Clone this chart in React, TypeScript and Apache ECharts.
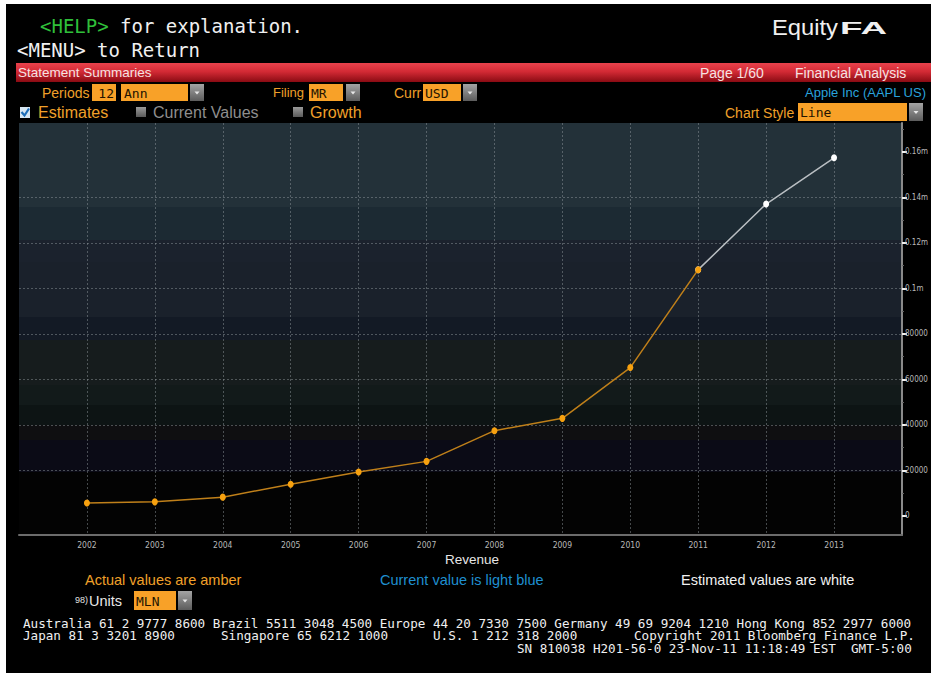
import React, { useEffect, useRef } from 'react';
import * as echarts from 'echarts';

// ---- data ----
const years = [2002, 2003, 2004, 2005, 2006, 2007, 2008, 2009, 2010, 2011, 2012, 2013];
const actualYears = [2002, 2003, 2004, 2005, 2006, 2007, 2008, 2009, 2010, 2011];
const actualRevenue = [5742, 6207, 8279, 13931, 19315, 24006, 37491, 42905, 65225, 108249];
const estimateYears = [2011, 2012, 2013];
const estimateRevenue = [108249, 137100, 157400];
const yTickValues = [0, 20000, 40000, 60000, 80000, 100000, 120000, 140000, 160000];
const footerLine1 = 'Australia 61 2 9777 8600 Brazil 5511 3048 4500 Europe 44 20 7330 7500 Germany 49 69 9204 1210 Hong Kong 852 2977 6000';

const SANS = '"Liberation Sans", Arial, sans-serif';
const MONO = '"DejaVu Sans Mono", monospace';
const NARROW = '"Liberation Sans Narrow", "DejaVu Sans Condensed", "Liberation Sans", sans-serif';
const AMBER = '#f0a02a';
const BOX = '#f8a128';
const FOOT_SIZE = 11.8;
const FOOT_SCALE = 1.07;

function txt(x: number, y: number, text: string, fill: string, size: number, opt: any = {}) {
  return {
    type: 'text',
    x,
    y,
    scaleX: opt.scaleX ?? 1,
    z: 10,
    style: {
      text,
      fill,
      fontSize: size,
      fontFamily: opt.family ?? SANS,
      fontWeight: opt.weight ?? 'normal',
      align: opt.align ?? 'left',
      verticalAlign: 'middle',
    },
  };
}

function box(x: number, y: number, w: number, h: number) {
  return { type: 'rect', z: 5, shape: { x, y, width: w, height: h }, style: { fill: BOX } };
}

function dd(x: number, y: number, w: number, h: number) {
  const cx = x + w / 2;
  const cy = y + h / 2;
  return [
    {
      type: 'rect',
      z: 5,
      shape: { x, y, width: w, height: h },
      style: {
        fill: new echarts.graphic.LinearGradient(0, 0, 0, 1, [
          { offset: 0, color: '#a4a4a4' },
          { offset: 1, color: '#5c5c5c' },
        ]),
      },
    },
    {
      type: 'polygon',
      z: 6,
      shape: { points: [[cx - 2.5, cy - 1], [cx + 2.5, cy - 1], [cx, cy + 2]] },
      style: { fill: '#e8e8e8' },
    },
  ];
}

function grayCheck(x: number, y: number) {
  return {
    type: 'rect',
    z: 5,
    shape: { x, y, width: 10, height: 10 },
    style: {
      fill: new echarts.graphic.LinearGradient(0, 0, 0, 1, [
        { offset: 0, color: '#9a9a9a' },
        { offset: 1, color: '#5a5a5a' },
      ]),
    },
  };
}

function foot(x: number, y: number, text: string) {
  return txt(x, y, text, '#f0f0f0', FOOT_SIZE, { family: MONO, scaleX: FOOT_SCALE });
}

// stepped background bands of the plot (pixel bands, converted to gradient stops)
const PLOT_TOP = 123;
const PLOT_H = 412;
const bands: [number, number, string][] = [
  [123, 207, '#233139'],
  [207, 240, '#1c2a33'],
  [240, 262, '#1b222d'],
  [262, 317, '#1a212b'],
  [317, 340, '#131a25'],
  [340, 385, '#161c1d'],
  [385, 405, '#121a1a'],
  [405, 425, '#0d1414'],
  [425, 440, '#0f0f11'],
  [440, 472, '#0b0b16'],
  [472, 535, '#030303'],
];

export default function App() {
  const ref = useRef<HTMLDivElement>(null);
  useEffect(() => {
    document.body.style.margin = '0';
    const chart = echarts.init(ref.current!, null, { renderer: 'svg' });

    const stops: any[] = [];
    bands.forEach(([a, b, c]) => {
      stops.push({ offset: (a - PLOT_TOP) / PLOT_H, color: c });
      stops.push({ offset: Math.min(1, (b - PLOT_TOP) / PLOT_H), color: c });
    });

    const graphic: any[] = [
      { type: 'rect', z: 20, shape: { x: 0, y: 0, width: 931, height: 4 }, style: { fill: '#fff' } },
      { type: 'rect', z: 20, shape: { x: 0, y: 0, width: 6, height: 673 }, style: { fill: '#fff' } },
      txt(40, 26, '<HELP>', '#2fbf3a', 19, { family: MONO }),
      txt(120, 26, 'for explanation.', '#f0f0f0', 19, { family: MONO }),
      txt(17, 50, '<MENU> to Return', '#f0f0f0', 19, { family: MONO }),
      txt(772, 27, 'Equity', '#f0f0f0', 22, { scaleX: 1.08 }),
      txt(840, 28, 'FA', '#f0f0f0', 16, { weight: 'bold', scaleX: 2.3 }),
      {
        type: 'rect',
        z: 4,
        shape: { x: 16, y: 63, width: 915, height: 19 },
        style: {
          fill: new echarts.graphic.LinearGradient(0, 0, 0, 1, [
            { offset: 0, color: '#e8424c' },
            { offset: 0.45, color: '#d32a35' },
            { offset: 1, color: '#8a0b13' },
          ]),
        },
      },
      txt(18, 72.5, 'Statement Summaries', '#f6e2e2', 13.5),
      txt(700, 72.5, 'Page 1/60', '#f6e2e2', 14),
      txt(795, 72.5, 'Financial Analysis', '#f6e2e2', 14),
      // row 1
      txt(42, 92.5, 'Periods', AMBER, 14),
      box(92, 84, 24, 17),
      txt(114, 93, '12', '#241400', 13, { family: MONO, align: 'right' }),
      box(121, 84, 67, 17),
      txt(124, 93, 'Ann', '#241400', 13, { family: MONO }),
      ...dd(190, 84, 14, 17),
      txt(273, 92.5, 'Filing', AMBER, 13),
      box(309, 84, 34, 17),
      txt(311, 93, 'MR', '#241400', 13, { family: MONO }),
      ...dd(346, 84, 14, 17),
      txt(394, 92.5, 'Curr', AMBER, 14),
      box(423, 84, 38, 17),
      txt(425, 93, 'USD', '#241400', 13, { family: MONO }),
      ...dd(463, 84, 14, 17),
      txt(926, 92.5, 'Apple Inc (AAPL US)', '#29a3dc', 13, { align: 'right' }),
      // row 2
      {
        type: 'rect',
        z: 5,
        shape: { x: 20, y: 107, width: 10, height: 11 },
        style: { fill: '#d6e6f2' },
      },
      {
        type: 'polyline',
        z: 6,
        shape: { points: [[21.5, 112], [24.5, 115.5], [29, 108.5]] },
        style: { stroke: '#1d6db8', lineWidth: 2.2, fill: null },
      },
      txt(38, 112, 'Estimates', AMBER, 16),
      grayCheck(136, 107),
      txt(153, 112, 'Current Values', '#8e8e8e', 16),
      grayCheck(293, 107),
      txt(310, 112, 'Growth', AMBER, 16),
      txt(725, 112.5, 'Chart Style', AMBER, 14),
      box(798, 103, 109, 18),
      txt(800, 112.5, 'Line', '#241400', 13, { family: MONO }),
      ...dd(909, 103, 14, 18),
      // below chart
      txt(472, 559.5, 'Revenue', '#e6e6e6', 13.5, { align: 'center' }),
      txt(85, 580, 'Actual values are amber', AMBER, 14.5),
      txt(380, 580, 'Current value is light blue', '#1f8fd0', 14.5),
      txt(681, 580, 'Estimated values are white', '#f0f0f0', 14.5),
      txt(75, 600, '98)', '#e0e0e0', 9),
      txt(89, 600.5, 'Units', '#e8e8e8', 14.5),
      box(134, 591, 42, 19),
      txt(136, 601, 'MLN', '#241400', 13, { family: MONO }),
      ...dd(178, 591, 14, 19),
      foot(23, 624, footerLine1),
      foot(23, 636.5, 'Japan 81 3 3201 8900'),
      foot(221, 636.5, 'Singapore 65 6212 1000'),
      foot(433, 636.5, 'U.S. 1 212 318 2000'),
      foot(634, 636.5, 'Copyright 2011 Bloomberg Finance L.P.'),
      foot(517, 649, 'SN 810038 H201-56-0 23-Nov-11 11:18:49 EST  GMT-5:00'),
    ];

    chart.setOption({
      animation: false,
      backgroundColor: '#000',
      grid: {
        left: 19,
        top: PLOT_TOP,
        width: 887,
        height: PLOT_H,
        show: true,
        borderWidth: 0,
        backgroundColor: new echarts.graphic.LinearGradient(0, 0, 0, 1, stops),
      },
      xAxis: {
        type: 'value',
        min: 2001,
        max: 2014,
        interval: 1,
        axisLine: { show: true, onZero: false, lineStyle: { color: '#6c6c6c', width: 2 } },
        axisTick: { show: false },
        axisLabel: {
          showMinLabel: false,
          showMaxLabel: false,
          color: '#b8b8b8',
          fontSize: 8.5,
          fontFamily: NARROW,
          margin: 5,
          formatter: (v: number) => (years.includes(v) ? String(v) : ''),
        },
        splitLine: {
          show: true,
          showMinLine: false,
          showMaxLine: false,
          lineStyle: { color: 'rgba(150,160,165,0.45)', type: [2, 2], width: 1 },
        },
      },
      yAxis: {
        type: 'value',
        position: 'right',
        min: -8352,
        max: 172700,
        splitNumber: 9,
        axisLine: { show: true, lineStyle: { color: '#8a8a8a', width: 2 } },
        axisTick: {
          show: true,
          customValues: yTickValues,
          length: 5,
          lineStyle: { color: '#f0f0f0', width: 2 },
        },
        minorTick: { show: true, splitNumber: 2, length: 2, lineStyle: { color: '#666' } },
        axisLabel: {
          customValues: yTickValues,
          color: '#b8b8b8',
          fontSize: 8,
          fontFamily: NARROW,
          margin: 3,
          formatter: (v: number) => {
            if (v === 0) return '0';
            if (v < 100000) return String(v);
            return v / 1e6 + 'm';
          },
        },
        splitLine: {
          show: true,
          showMinLine: false,
          showMaxLine: false,
          lineStyle: { color: 'rgba(150,160,165,0.45)', type: [2, 2], width: 1 },
        },
      },
      series: [
        {
          name: 'Estimated',
          type: 'line',
          data: estimateYears.map((y, i) => [y, estimateRevenue[i]]),
          symbol: 'circle',
          symbolSize: [6, 7],
          lineStyle: { color: '#b9bec2', width: 1.5 },
          itemStyle: { color: '#ffffff' },
          z: 3,
        },
        {
          name: 'Actual',
          type: 'line',
          data: actualYears.map((y, i) => [y, actualRevenue[i]]),
          symbol: 'circle',
          symbolSize: [6, 7],
          lineStyle: { color: '#c0801a', width: 1.5 },
          itemStyle: { color: '#f7a10f' },
          z: 4,
        },
      ],
      graphic,
    });
    return () => chart.dispose();
  }, []);
  return <div ref={ref} style={{ width: 931, height: 673 }} />;
}
